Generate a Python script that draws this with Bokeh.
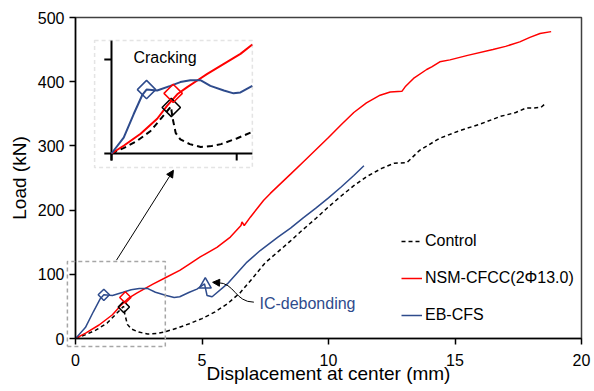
import numpy as np
from bokeh.plotting import figure
from bokeh.models import (Range1d, BoxAnnotation, Arrow, NormalHead,
                          Legend, LegendItem, FixedTicker, Label)
from bokeh.embed import file_html
from bokeh.resources import INLINE

# ---------------- data ----------------
control_x = [0, 0.4, 0.8, 1.25, 1.6, 1.9, 1.95, 2.05, 2.2, 2.5, 2.85, 3.2, 3.5, 4.0,
             4.5, 5.0, 5.5, 6.0, 6.5, 7.0, 7.5, 8.0, 8.5, 9.0, 9.5, 10.0, 10.5, 11.0,
             11.5, 12.1, 12.6, 13.1, 13.6, 14.4, 15.2, 16.0, 16.8, 17.4, 17.8, 18.1,
             18.4, 18.6]
control_y = [0, 6, 13, 24, 38, 50, 38, 22, 15, 10, 7, 8, 10, 16,
             23, 31, 41, 54, 71, 94, 118, 135, 152, 170, 187, 205, 222, 238,
             252, 265, 273, 274, 293, 312, 324, 334, 346, 352, 359, 359,
             360, 367]

nsm_x = [0, 0.4, 0.93, 1.46, 1.78, 2.1, 2.42, 2.74, 3.06, 3.59, 4.12, 4.5, 4.93,
         5.59, 6.12, 6.54, 6.58, 6.67, 6.91, 7.43, 7.7, 8.5, 9.0, 9.5, 10.0, 10.5,
         11.0, 11.5, 12.04, 12.44, 12.9, 13.03, 13.36, 13.88, 14.08, 14.4, 14.8,
         15.5, 16.5, 17.0, 17.56, 17.96, 18.36, 18.8]
nsm_y = [0, 8.5, 21, 37, 51, 63, 70.6, 77.7, 84.7, 95.4, 106, 116, 127,
         142, 158, 176, 181.5, 176, 189, 215, 226, 256, 275, 294, 313, 333,
         352, 367, 379, 384, 385, 392, 405, 419, 423, 431, 434,
         441, 450, 455, 462, 469, 475, 478]

eb_x = [0, 0.39, 0.71, 0.98, 1.12, 1.46, 1.88, 2.2, 2.52, 2.84, 3.16, 3.59, 3.9,
        4.12, 4.5, 4.8, 5.1, 5.2, 5.4, 6.0, 6.78, 7.3, 8.0, 8.5, 9.0, 9.5, 10.0,
        10.5, 11.0, 11.4]
eb_y = [0, 17, 42, 62, 68, 67, 72, 76, 78, 78, 72, 67, 64,
        65, 72, 77, 85, 67, 65, 85, 119, 137, 158, 172, 188, 203, 219,
        236, 254, 269]

# cracking points: Control, NSM-CFCC, EB-CFS
crack_x = [1.91, 1.97, 1.12]
crack_y = [49, 64, 68]
# IC-debonding point (EB-CFS)
debond_x = [5.13]
debond_y = [84]

x_ticks = [0, 5, 10, 15, 20]
y_ticks = [0, 100, 200, 300, 400, 500]
inset_x_ticks = [0, 4]
inset_y_ticks = [0, 100]
legend_labels = ["Control", "NSM-CFCC(2\u03a613.0)", "EB-CFS"]

# ---------------- styles ----------------
FONT = "Liberation Sans"
RED = "#FF0000"
BLUE = "#2E4B8C"
BLACK = "#000000"
GRAY = "#A6A6A6"
series_colors = [BLACK, RED, BLUE]
INSET_XMAX = 4.5

p = figure(frame_width=506, frame_height=321,
           x_range=Range1d(0, 20), y_range=Range1d(0, 500),
           output_backend="svg", toolbar_location=None,
           min_border_left=75, min_border_right=12,
           min_border_top=17, min_border_bottom=52)
p.extra_x_ranges = {"ix": Range1d(-1.150, 15.016)}
p.extra_y_ranges = {"iy": Range1d(-196.8, 144.7)}

p.grid.visible = False
p.outline_line_color = "#404040"
p.outline_line_width = 1.5
p.xaxis.ticker = FixedTicker(ticks=x_ticks)
p.yaxis.ticker = FixedTicker(ticks=y_ticks)
for ax in (p.xaxis, p.yaxis):
    ax.minor_tick_line_color = None
    ax.major_tick_in = 0
    ax.major_tick_out = 6
    ax.axis_line_width = 1.5
    ax.axis_line_color = BLACK
    ax.major_tick_line_width = 1.5
    ax.major_tick_line_color = BLACK
    ax.major_label_text_font = FONT
    ax.major_label_text_font_size = "16px"
    ax.major_label_text_color = BLACK
    ax.axis_label_text_font = FONT
    ax.axis_label_text_font_size = "19px"
    ax.axis_label_text_font_style = "normal"
    ax.axis_label_text_color = BLACK
p.xaxis.major_label_standoff = 9
p.xaxis.axis_label_standoff = -6
p.yaxis.major_label_standoff = 5
p.yaxis.axis_label_standoff = 5
p.xaxis.axis_label = "Displacement at center (mm)"
p.yaxis.axis_label = "Load (kN)"

# ---------------- main curves ----------------
r_ctrl = p.line(control_x, control_y, line_color=BLACK, line_dash="4 3", line_width=1.5)
r_nsm = p.line(nsm_x, nsm_y, line_color=RED, line_width=1.5)
r_eb = p.line(eb_x, eb_y, line_color=BLUE, line_width=1.5)

for i, c in enumerate(series_colors):
    p.scatter([crack_x[i]], [crack_y[i]], marker="square", angle=np.pi / 4, size=8,
              fill_color=None, line_color=c, line_width=1.5)
p.scatter(debond_x, debond_y, marker="triangle", size=12, fill_color=None,
          line_color=BLUE, line_width=1.5)

# dashed zoom region in main plot (extends slightly beyond the axes,
# so it is drawn at overlay level, which is not clipped to the frame)
ZL, ZR, ZB, ZT = -0.32, 3.55, -12.5, 120
p.multi_line(xs=[[ZL, ZR, ZR, ZL, ZL]], ys=[[ZB, ZB, ZT, ZT, ZB]],
             line_color=GRAY, line_dash="4 3", line_width=1.5, level="overlay")

# arrow from zoom region to inset
p.add_layout(Arrow(x_start=1.62, y_start=122, x_end=3.87, y_end=262,
                   line_color=BLACK, line_width=1,
                   end=NormalHead(size=7, fill_color=BLACK, line_color=BLACK)))

# IC-debonding annotation
p.bezier(x0=[7.05], y0=[56.6], x1=[5.62], y1=[87], cx0=[6.3], cy0=[56.6],
         cx1=[6.3], cy1=[87], line_color=BLACK, line_width=1)
p.add_layout(Arrow(x_start=5.62, y_start=87, x_end=5.42, y_end=87.5,
                   line_color=BLACK, line_width=1,
                   end=NormalHead(size=7, fill_color=BLACK, line_color=BLACK)))
p.add_layout(Label(x=7.27, y=54.6, text="IC-debonding", text_font=FONT,
                   text_font_size="16px", text_color=BLUE, text_baseline="middle",
                   text_align="left"))

# ---------------- inset ----------------
IX, IY = "ix", "iy"
p.add_layout(BoxAnnotation(left=-0.54, right=INSET_XMAX, bottom=-14.9, top=120.2,
                           x_range_name=IX, y_range_name=IY,
                           fill_alpha=0, line_color=GRAY, line_dash="4 3",
                           line_width=1.5))
# inset axes
p.segment(x0=[0], y0=[-7.4], x1=[0], y1=[120.2], x_range_name=IX, y_range_name=IY,
          line_color=BLACK, line_width=2)
p.segment(x0=[0], y0=[0], x1=[INSET_XMAX], y1=[0], x_range_name=IX, y_range_name=IY,
          line_color=BLACK, line_width=2)
p.segment(x0=[-0.23] * len(inset_y_ticks), y0=inset_y_ticks,
          x1=[0] * len(inset_y_ticks), y1=inset_y_ticks,
          x_range_name=IX, y_range_name=IY, line_color=BLACK, line_width=2)
p.segment(x0=inset_x_ticks, y0=[-7.4] * len(inset_x_ticks),
          x1=inset_x_ticks, y1=[0] * len(inset_x_ticks),
          x_range_name=IX, y_range_name=IY, line_color=BLACK, line_width=2)


def clip(xs, ys):
    xs = np.asarray(xs, float)
    ys = np.asarray(ys, float)
    m = xs <= INSET_XMAX + 1e-9
    return xs[m], ys[m]


cx, cy = clip(control_x, control_y)
p.line(cx, cy, x_range_name=IX, y_range_name=IY, line_color=BLACK,
       line_dash="6 4", line_width=2)
nx, ny = clip(nsm_x, nsm_y)
p.line(nx, ny, x_range_name=IX, y_range_name=IY, line_color=RED, line_width=2)
ex, ey = clip(eb_x, eb_y)
p.line(ex, ey, x_range_name=IX, y_range_name=IY, line_color=BLUE, line_width=2)
for i, c in enumerate(series_colors):
    p.scatter([crack_x[i]], [crack_y[i]], marker="square", angle=np.pi / 4, size=13,
              x_range_name=IX, y_range_name=IY,
              fill_color=None, line_color=c, line_width=1.5)
p.add_layout(Label(x=0.70, y=102, x_range_name=IX, y_range_name=IY,
                   text="Cracking", text_font=FONT, text_font_size="16px",
                   text_color=BLACK, text_baseline="middle", text_align="left"))

# ---------------- legend ----------------
legend = Legend(items=[LegendItem(label=legend_labels[0], renderers=[r_ctrl]),
                       LegendItem(label=legend_labels[1], renderers=[r_nsm]),
                       LegendItem(label=legend_labels[2], renderers=[r_eb])],
                location=(326, 14), padding=0, margin=0,
                border_line_color=None, background_fill_alpha=0,
                glyph_width=21, glyph_height=16, label_height=16,
                label_standoff=3, spacing=19,
                label_text_font=FONT, label_text_font_size="16px",
                label_text_color=BLACK)
p.add_layout(legend)

open("out.html", "w").write(file_html(p, INLINE))
